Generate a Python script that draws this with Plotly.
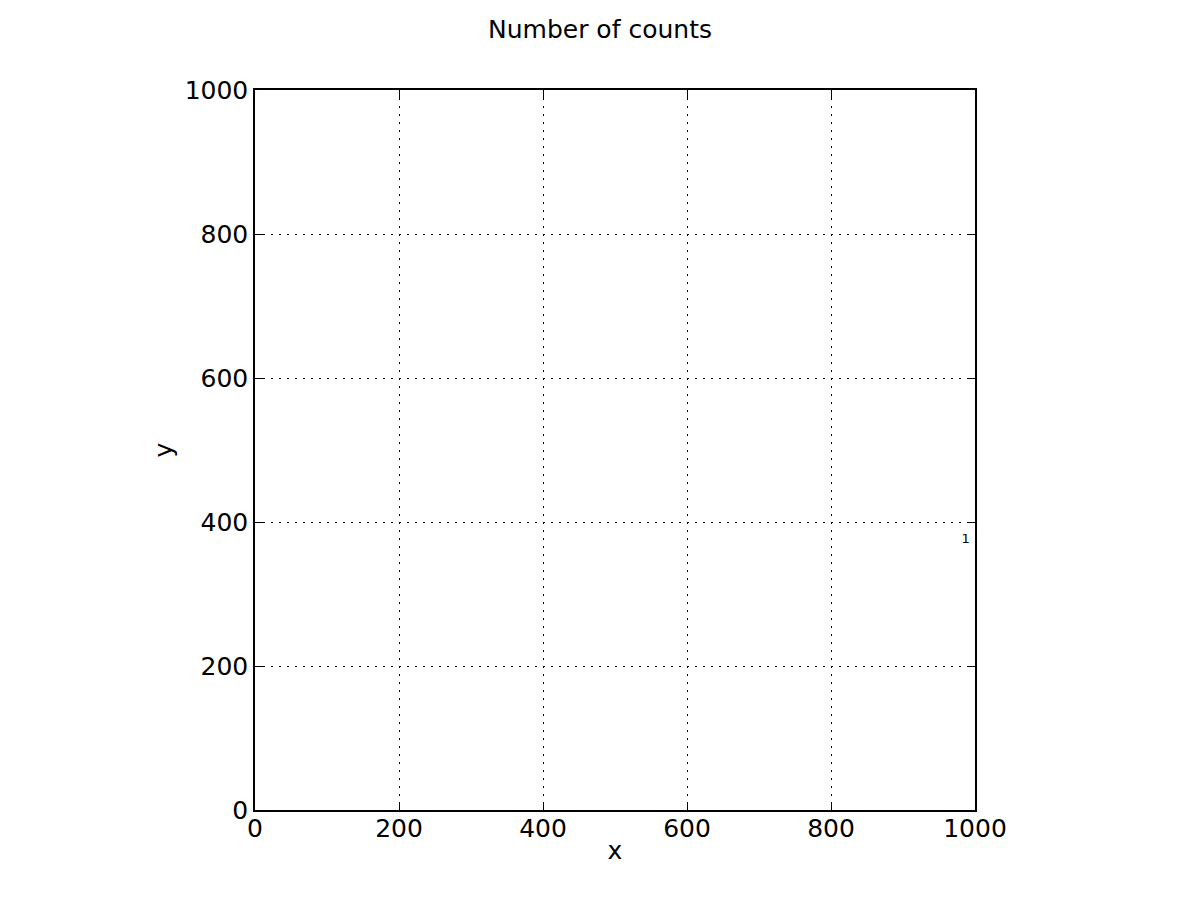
import plotly.graph_objects as go

# axis ticks
tick_vals = [0, 200, 400, 600, 800, 1000]

# counts placed on the map
count_x = [987]
count_y = [376]
count_labels = ["1"]

# page body has an 8px margin, so the figure is drawn 16px smaller
W, H = 1184, 884

fig = go.Figure()

fig.add_trace(go.Scatter(
    x=count_x, y=count_y, text=count_labels,
    mode="text", textfont=dict(size=13, color="black"),
    showlegend=False, hoverinfo="skip",
))

axis_style = dict(
    range=[0, 1000],
    tickvals=tick_vals,
    ticks="inside", ticklen=8, tickwidth=1, tickcolor="black",
    showline=True, linecolor="black", linewidth=1.5, mirror="ticks",
    showgrid=True, gridcolor="black", gridwidth=1, griddash="2px,6px",
    zeroline=False,
    tickfont=dict(size=25, color="black"),
)

fig.update_layout(
    width=W, height=H,
    font=dict(family="DejaVu Sans", color="black"),
    title=dict(text="Number of counts", x=0.5, xanchor="center",
               y=1 - 21 / H, yanchor="middle", font=dict(size=25)),
    margin=dict(l=247, r=217, t=82, b=82, pad=0),
    plot_bgcolor="white", paper_bgcolor="white",
    xaxis=dict(axis_style, title=dict(text="x", font=dict(size=25), standoff=0),
               ticklabelstandoff=-5),
    yaxis=dict(axis_style, title=dict(text="y", font=dict(size=25), standoff=5),
               ticklabelstandoff=0),
)

fig.write_html("out.html")
